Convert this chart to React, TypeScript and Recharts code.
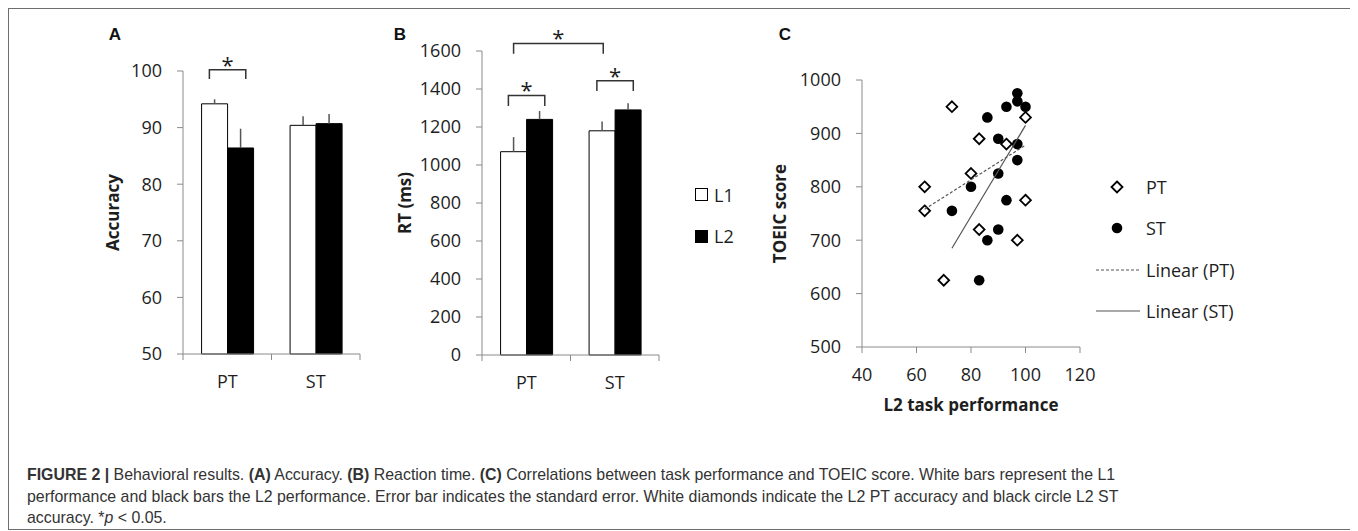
import {
  BarChart,
  Bar,
  XAxis,
  YAxis,
  ErrorBar,
  LabelList,
  Legend,
  ScatterChart,
  Scatter,
} from 'recharts'

const categories = ['PT', 'ST']

// (A) accuracy
const accL1 = [94.2, 90.4]
const accL2 = [86.4, 90.7]
const accErrL1 = [0.8, 1.6]
const accErrL2 = [3.4, 1.7]
const accTicks = [50, 60, 70, 80, 90, 100]
const accSigTop = [100.2, null]

// (B) reaction time
const rtL1 = [1070, 1180]
const rtL2 = [1240, 1290]
const rtErrL1 = [77, 49]
const rtErrL2 = [44, 35]
const rtTicks = [0, 200, 400, 600, 800, 1000, 1200, 1400, 1600]
const rtSigTop = [1366, 1444]
const rtSigBetween = 1640

// (C) L2 task performance vs TOEIC
const ptX = [63, 63, 70, 73, 80, 83, 83, 93, 97, 100, 100]
const ptY = [800, 755, 625, 950, 825, 890, 720, 880, 700, 775, 930]
const stX = [73, 80, 83, 86, 86, 90, 90, 90, 93, 93, 97, 97, 97, 97, 100]
const stY = [755, 800, 625, 700, 930, 890, 825, 720, 775, 950, 975, 960, 880, 850, 950]
const trendPtX = [63, 100]
const trendPtY = [758, 878]
const trendStX = [73, 100]
const trendStY = [685, 915]
const perfTicks = [40, 60, 80, 100, 120]
const toeicTicks = [500, 600, 700, 800, 900, 1000]

const barLegend = [
  { label: 'L1', kind: 'open' },
  { label: 'L2', kind: 'filled' },
]
const scatterLegend = [
  { label: 'PT', kind: 'diamond' },
  { label: 'ST', kind: 'dot' },
  { label: 'Linear (PT)', kind: 'dash' },
  { label: 'Linear (ST)', kind: 'solid' },
]

const FONT = '"Open Sans", sans-serif'
const axisColor = '#8a8a8a'
const ink = '#1e1e1e'
const tickStyle = { fill: ink, fontSize: 18, fontFamily: FONT }
const titleStyle: any = {
  fill: ink,
  fontSize: 17,
  fontWeight: 700,
  fontFamily: FONT,
  textAnchor: 'middle',
}
const GAP = 0.21 // barCategoryGap as a fraction

const accData = categories.map((name, i) => ({
  name,
  L1: accL1[i],
  L2: accL2[i],
  e1: [0, accErrL1[i]],
  e2: [0, accErrL2[i]],
}))
const rtData = categories.map((name, i) => ({
  name,
  L1: rtL1[i],
  L2: rtL2[i],
  e1: [0, rtErrL1[i]],
  e2: [0, rtErrL2[i]],
}))
const ptData = ptX.map((x, i) => ({ x, y: ptY[i] }))
const stData = stX.map((x, i) => ({ x, y: stY[i] }))
const trendPt = trendPtX.map((x, i) => ({ x, y: trendPtY[i] }))
const trendSt = trendStX.map((x, i) => ({ x, y: trendStY[i] }))

// category tick: label + Excel style ticks on the band edges
const CatTick = (props: any) => {
  const { x, y, payload } = props
  const half = payload?.offset || 44.25
  const axisY = y - 21
  return (
    <g>
      <line x1={x - half} x2={x - half} y1={axisY} y2={axisY + 6} stroke={axisColor} />
      <line x1={x + half} x2={x + half} y1={axisY} y2={axisY + 6} stroke={axisColor} />
      <text x={x} y={y} dy="0.71em" textAnchor="middle" style={tickStyle}>
        {payload.value}
      </text>
    </g>
  )
}

// significance brackets, hung on the L1 bar so they follow its scale
const sigBrackets =
  (tops: (number | null)[], base: number, leg: number, between?: number) =>
  (props: any) => {
    const vb = props.viewBox || props
    const bx = Number(vb.x)
    const bw = Number(vb.width)
    const h = Math.abs(Number(vb.height))
    const top = Math.min(Number(vb.y), Number(vb.y) + Number(vb.height))
    const bottom = top + h
    const k = h / (Number(props.value) - base)
    const yAt = (v: number) => bottom - (v - base) * k
    const idx = props.index
    const parts: any[] = []
    const draw = (x1: number, x2: number, v: number, key: string) => {
      const yt = yAt(v)
      const yl = yAt(v - leg)
      parts.push(
        <path
          key={key + 'p'}
          d={`M${x1},${yl}V${yt}H${x2}V${yl}`}
          fill="none"
          stroke="#333"
          strokeWidth={1.5}
        />,
        <text
          key={key + 't'}
          x={(x1 + x2) / 2}
          y={yt + 3}
          textAnchor="middle"
          style={{ fontSize: 22, fontFamily: FONT, fill: ink }}
        >
          *
        </text>
      )
    }
    const t = tops[idx]
    if (t != null) draw(bx + bw * 0.3, bx + bw * 1.7, t, 'a')
    if (between != null && idx === 0) {
      const band = (bw * 2) / (1 - 2 * GAP)
      draw(bx + bw * 0.5, bx + bw * 0.5 + band, between, 'b')
    }
    return <g>{parts}</g>
  }

const symbol = (kind: string, w: number) => {
  const c = w / 2
  switch (kind) {
    case 'open':
      return <rect x={0.5} y={0.5} width={12} height={12} fill="#fff" stroke="#000" />
    case 'filled':
      return <rect x={0.5} y={0.5} width={12} height={12} fill="#000" stroke="#000" />
    case 'diamond':
      return <path d={`M${c - 1},1.5L${c + 4.5},7L${c - 1},12.5L${c - 6.5},7Z`} fill="#fff" stroke="#000" strokeWidth={1.8} />
    case 'dot':
      return <circle cx={c - 1} cy={7} r={5.3} fill="#000" />
    case 'dash':
      return <line x1={0} x2={w} y1={7} y2={7} stroke="#555" strokeDasharray="3 2" />
    default:
      return <line x1={0} x2={w} y1={7} y2={7} stroke="#555" strokeWidth={1.2} />
  }
}

const renderLegend =
  (items: { label: string; kind: string }[], symW: number, symH: number) => () =>
    (
      <ul style={{ listStyle: 'none', margin: 0, padding: 0, fontFamily: FONT, fontSize: 18, color: ink }}>
        {items.map((it) => (
          <li key={it.label} style={{ height: 41.5, display: 'flex', alignItems: 'center' }}>
            <svg width={symW} height={symH} style={{ marginRight: 6, display: 'block' }}>
              {symbol(it.kind, symW)}
            </svg>
            {it.label}
          </li>
        ))}
      </ul>
    )

const Diamond = (p: any) => {
  const { cx, cy } = p
  const r = 5.4
  return (
    <path
      d={`M${cx},${cy - r}L${cx + r},${cy}L${cx},${cy + r}L${cx - r},${cy}Z`}
      fill="#fff"
      stroke="#000"
      strokeWidth={1.8}
    />
  )
}
const Dot = (p: any) => <circle cx={p.cx} cy={p.cy} r={5.3} fill="#000" />

const panelLetter = (text: string, left: number): any => (
  <div
    style={{
      position: 'absolute',
      left: left - 20,
      width: 40,
      top: 15,
      textAlign: 'center',
      fontFamily: '"Liberation Sans", Arial, sans-serif',
      fontWeight: 700,
      fontSize: 17,
      lineHeight: '22px',
      color: '#111',
    }}
  >
    {text}
  </div>
)

const App = () => {
  return (
    <div
      style={{
        position: 'relative',
        width: 1346,
        height: 520,
        border: '1px solid #6e6e6e',
        background: '#fff',
        fontFamily: FONT,
      }}
    >
      {panelLetter('A', 106)}
      {panelLetter('B', 391)}
      {panelLetter('C', 776)}

      <div style={{ position: 'absolute', left: 81, top: 11 }}>
        <BarChart
          width={290}
          height={400}
          data={accData}
          margin={{ top: 51, right: 20, bottom: 26, left: 0 }}
          barGap={0}
          barCategoryGap="21%"
        >
          <XAxis
            dataKey="name"
            stroke={axisColor}
            tickLine={false}
            tickSize={6}
            tickMargin={15}
            height={40}
            tick={CatTick}
          />
          <YAxis
            domain={[50, 100]}
            ticks={accTicks}
            interval={0}
            width={93}
            stroke={axisColor}
            tickSize={6}
            tickMargin={15}
            tick={tickStyle}
            label={{ value: 'Accuracy', angle: -90, position: 'insideLeft', offset: 23, style: titleStyle }}
          />
          <Bar dataKey="L1" fill="#fff" stroke="#000" strokeWidth={1} isAnimationActive={false}>
            <ErrorBar dataKey="e1" width={0} stroke="#555" strokeWidth={1.5} />
            <LabelList dataKey="L1" content={sigBrackets(accSigTop, 50, 1.6)} />
          </Bar>
          <Bar dataKey="L2" fill="#000" stroke="#000" strokeWidth={1} isAnimationActive={false}>
            <ErrorBar dataKey="e2" width={0} stroke="#555" strokeWidth={1.5} />
          </Bar>
        </BarChart>
      </div>

      <div style={{ position: 'absolute', left: 371, top: 11 }}>
        <BarChart
          width={380}
          height={400}
          data={rtData}
          margin={{ top: 31, right: 101, bottom: 25, left: 0 }}
          barGap={0}
          barCategoryGap="21%"
        >
          <XAxis
            dataKey="name"
            stroke={axisColor}
            tickLine={false}
            tickSize={6}
            tickMargin={15}
            height={40}
            tick={CatTick}
          />
          <YAxis
            domain={[0, 1600]}
            ticks={rtTicks}
            interval={0}
            width={102}
            stroke={axisColor}
            tickSize={6}
            tickMargin={15}
            tick={tickStyle}
            label={{ value: 'RT (ms)', angle: -90, position: 'insideLeft', offset: 25, style: titleStyle }}
          />
          <Legend
            layout="horizontal"
            verticalAlign="middle"
            align="center"
            content={renderLegend(barLegend, 13, 13)}
            wrapperStyle={{ left: 315, top: 154, width: 'auto', height: 'auto' }}
          />
          <Bar dataKey="L1" fill="#fff" stroke="#000" strokeWidth={1} isAnimationActive={false}>
            <ErrorBar dataKey="e1" width={0} stroke="#555" strokeWidth={1.5} />
            <LabelList dataKey="L1" content={sigBrackets(rtSigTop, 0, 55, rtSigBetween)} />
          </Bar>
          <Bar dataKey="L2" fill="#000" stroke="#000" strokeWidth={1} isAnimationActive={false}>
            <ErrorBar dataKey="e2" width={0} stroke="#555" strokeWidth={1.5} />
          </Bar>
        </BarChart>
      </div>

      <div style={{ position: 'absolute', left: 751, top: 11 }}>
        <ScatterChart width={560} height={400} margin={{ top: 60, right: 240, bottom: 3, left: 0 }}>
          <XAxis
            type="number"
            dataKey="x"
            domain={[40, 120]}
            ticks={perfTicks}
            interval={0}
            stroke={axisColor}
            tickSize={6}
            tickMargin={15}
            height={70}
            tick={tickStyle}
            label={{ value: 'L2 task performance', position: 'insideBottom', offset: 6, style: titleStyle }}
          />
          <YAxis
            type="number"
            dataKey="y"
            domain={[500, 1000]}
            ticks={toeicTicks}
            interval={0}
            width={102}
            stroke={axisColor}
            tickSize={6}
            tickMargin={15}
            tick={tickStyle}
            label={{ value: 'TOEIC score', angle: -90, position: 'insideLeft', offset: 20, style: titleStyle }}
          />
          <Legend
            layout="horizontal"
            verticalAlign="middle"
            align="center"
            content={renderLegend(scatterLegend, 44, 14)}
            wrapperStyle={{ left: 336, top: 146, width: 'auto', height: 'auto' }}
          />
          <Scatter data={ptData} shape={Diamond} isAnimationActive={false} />
          <Scatter data={stData} shape={Dot} isAnimationActive={false} />
          <Scatter
            data={trendPt}
            shape={() => <g />}
            line={{ stroke: '#555', strokeWidth: 1.2, strokeDasharray: '3 2' }}
            isAnimationActive={false}
          />
          <Scatter
            data={trendSt}
            shape={() => <g />}
            line={{ stroke: '#555', strokeWidth: 1.2 }}
            isAnimationActive={false}
          />
        </ScatterChart>
      </div>

      <div
        style={{
          position: 'absolute',
          left: 18,
          top: 455,
          fontFamily: '"Liberation Sans", Arial, sans-serif',
          fontSize: 15.9,
          lineHeight: '21.5px',
          color: '#333',
          whiteSpace: 'nowrap',
        }}
      >
        <div>
          <b>FIGURE 2 |</b> Behavioral results. <b>(A)</b> Accuracy. <b>(B)</b> Reaction time.{' '}
          <b>(C)</b> Correlations between task performance and TOEIC score. White bars represent the L1
        </div>
        <div>
          performance and black bars the L2 performance. Error bar indicates the standard error. White
          diamonds indicate the L2 PT accuracy and black circle L2 ST
        </div>
        <div>
          accuracy. *<i>p</i> &lt; 0.05.
        </div>
      </div>
    </div>
  )
}

export default App
